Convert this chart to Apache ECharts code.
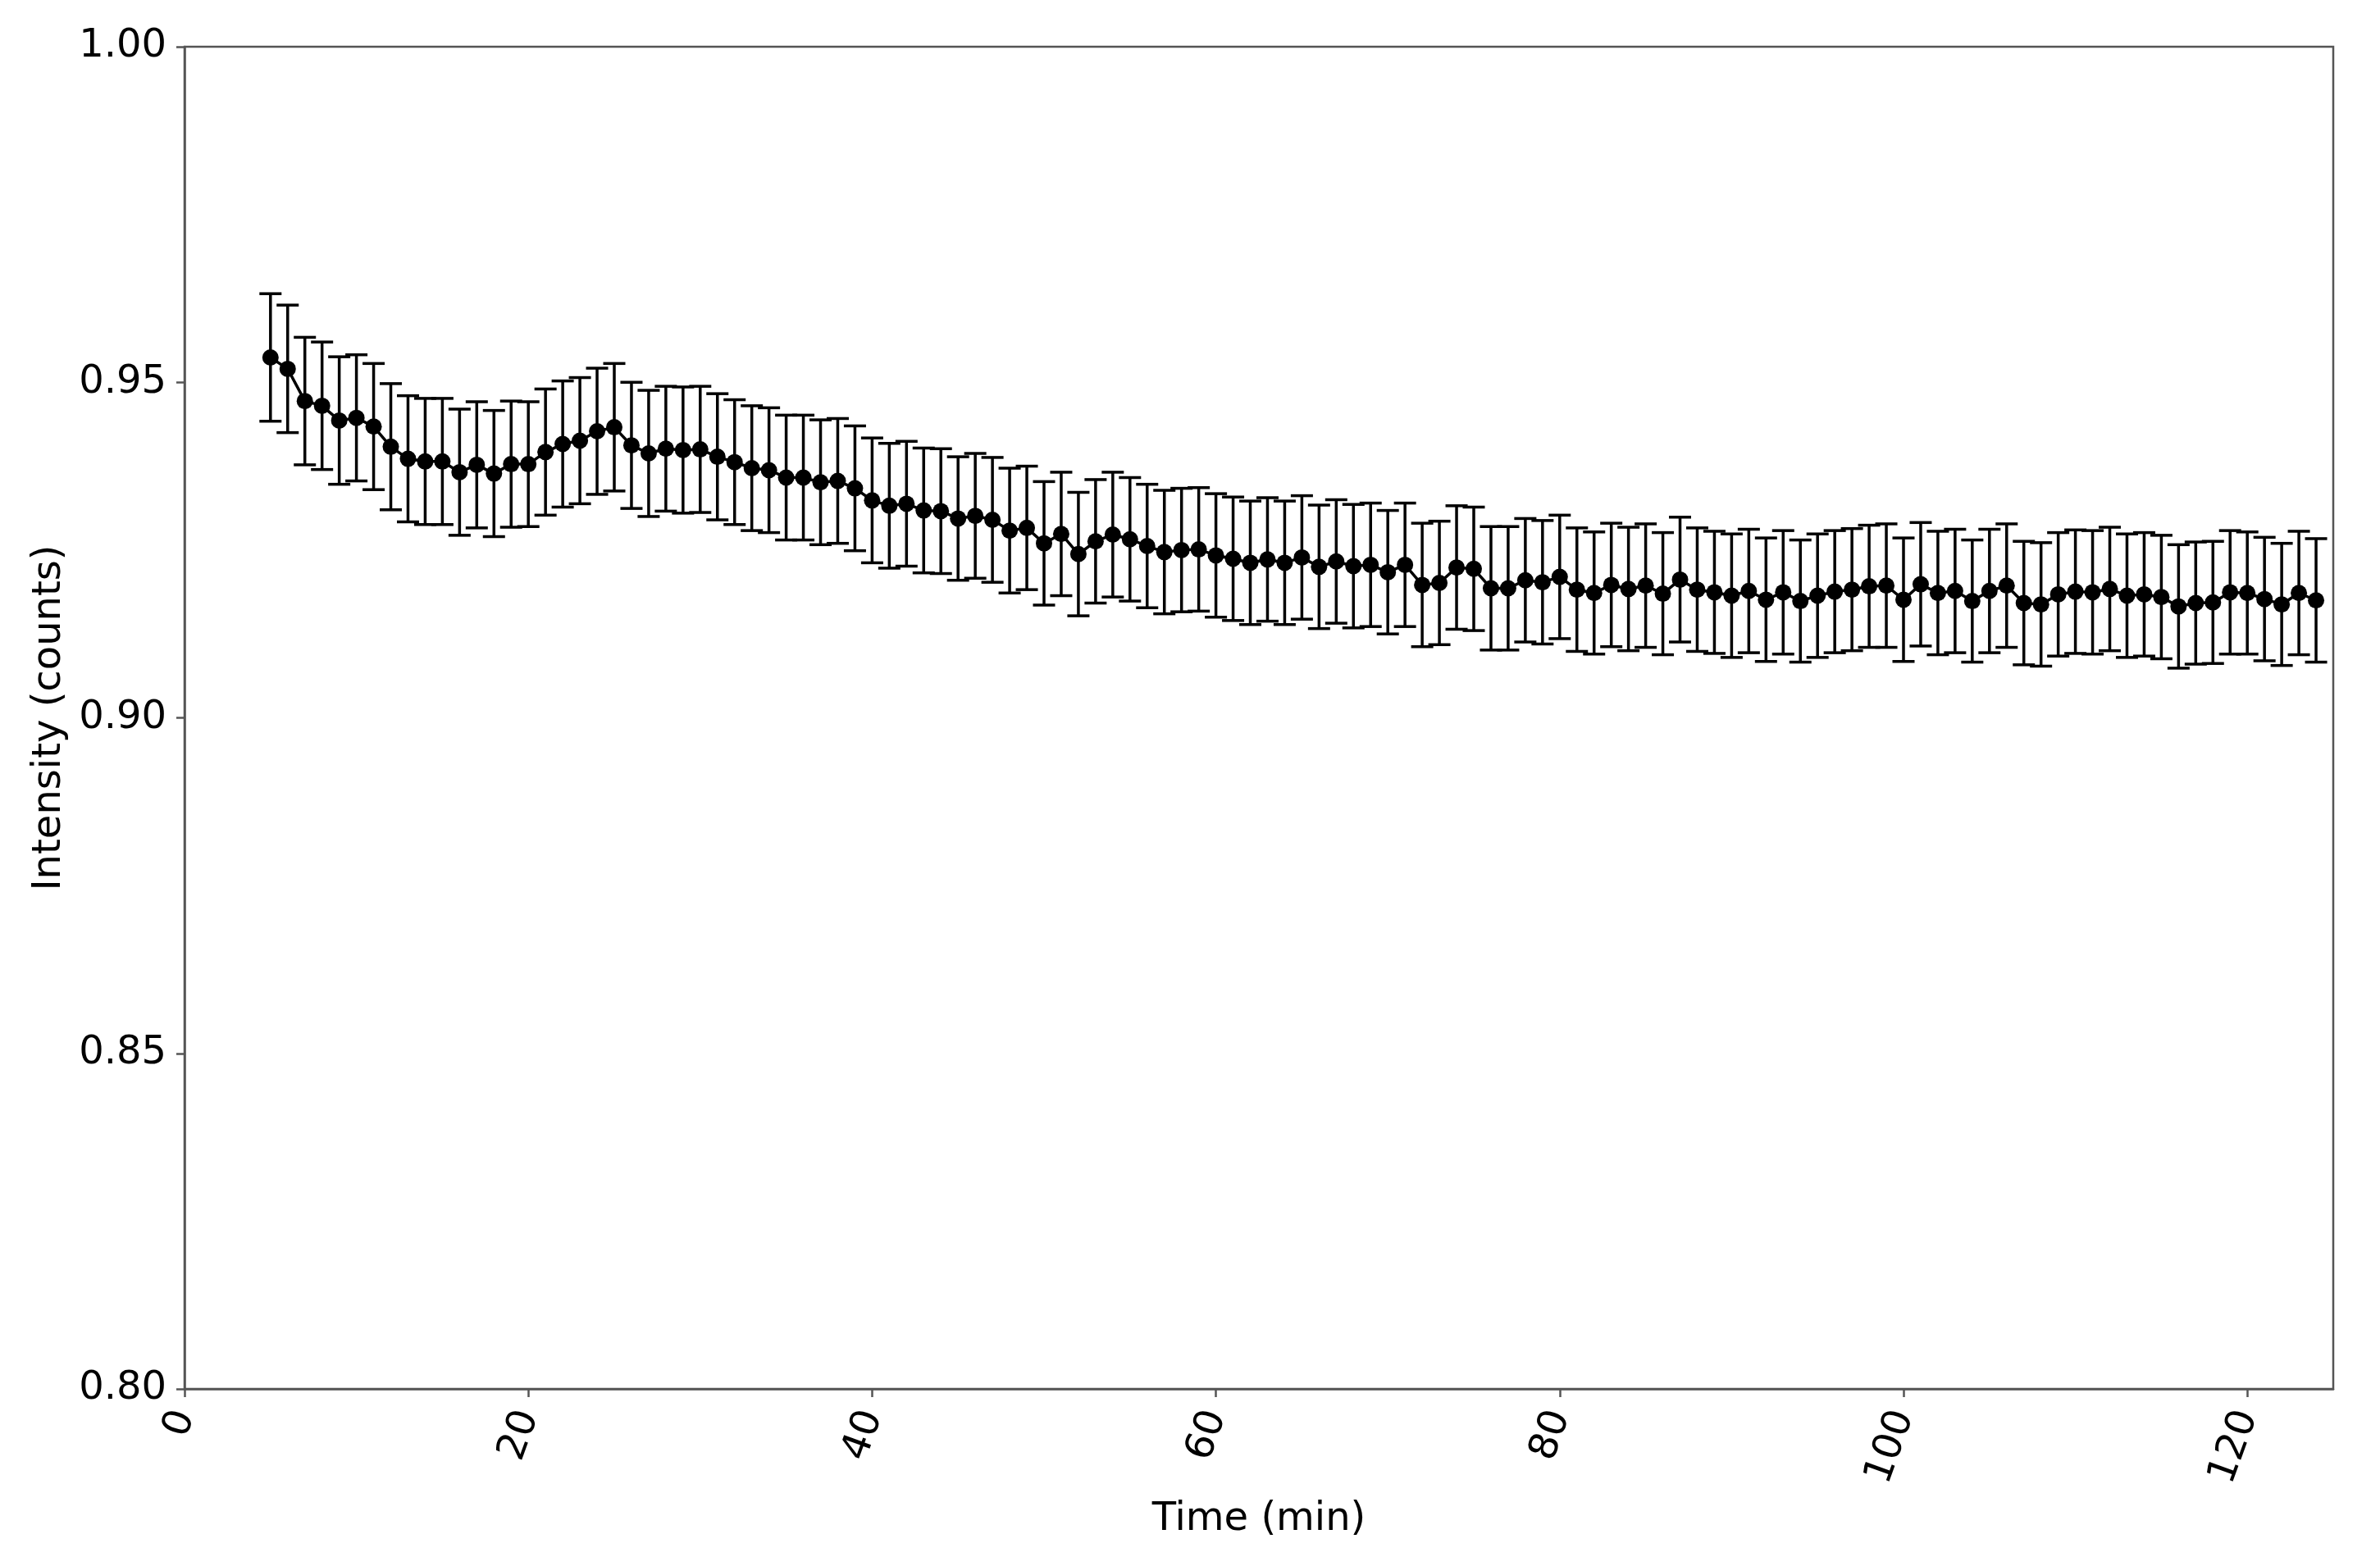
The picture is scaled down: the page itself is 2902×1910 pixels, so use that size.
<!DOCTYPE html>
<html>
<head>
<meta charset="utf-8">
<script src="https://cdn.jsdelivr.net/npm/echarts@6/dist/echarts.min.js"></script>
<style>
html,body{margin:0;padding:0;background:#fff;}
#chart{width:2902px;height:1910px;}
</style>
</head>
<body>
<div id="chart"></div>
<script>
var times = [5,6,7,8,9,10,11,12,13,14,15,16,17,18,19,20,21,22,23,24,25,26,27,28,29,30,31,32,33,34,35,36,37,38,39,40,41,42,43,44,45,46,47,48,49,50,51,52,53,54,55,56,57,58,59,60,61,62,63,64,65,66,67,68,69,70,71,72,73,74,75,76,77,78,79,80,81,82,83,84,85,86,87,88,89,90,91,92,93,94,95,96,97,98,99,100,101,102,103,104,105,106,107,108,109,110,111,112,113,114,115,116,117,118,119,120,121,122,123,124];

var intensity = [
0.9537,0.9520,0.9472,0.9465,0.9443,0.9447,0.9434,0.9404,0.9386,0.9382,
0.9382,0.9366,0.9377,0.9364,0.9378,0.9378,0.9396,0.9408,0.9413,0.9427,
0.9433,0.9406,0.9394,0.9401,0.9399,0.9400,0.9389,0.9381,0.9372,0.9369,
0.9358,0.9358,0.9351,0.9353,0.9342,0.9324,0.9316,0.9319,0.9309,0.9308,
0.9297,0.9301,0.9295,0.9279,0.9283,0.9260,0.9274,0.9244,0.9263,0.9273,
0.9266,0.9256,0.9247,0.9250,0.9251,0.9242,0.9237,0.9231,0.9236,0.9231,
0.9239,0.9225,0.9233,0.9226,0.9228,0.9217,0.9228,0.9198,0.9201,0.9224,
0.9222,0.9193,0.9193,0.9205,0.9202,0.9210,0.9191,0.9186,0.9198,0.9192,
0.9197,0.9185,0.9206,0.9191,0.9187,0.9182,0.9189,0.9176,0.9187,0.9174,
0.9182,0.9188,0.9191,0.9196,0.9197,0.9176,0.9199,0.9186,0.9189,0.9174,
0.9189,0.9197,0.9171,0.9169,0.9184,0.9188,0.9187,0.9192,0.9182,0.9184,
0.9180,0.9166,0.9171,0.9172,0.9187,0.9186,0.9177,0.9169,0.9186,0.9175];

var errors = [
0.0095,0.0095,0.0095,0.0095,0.0095,0.0094,0.0094,0.0094,0.0094,0.0094,
0.0094,0.0094,0.0094,0.0094,0.0094,0.0093,0.0094,0.0094,0.0094,0.0094,
0.0095,0.0094,0.0094,0.0093,0.0094,0.0094,0.0094,0.0093,0.0093,0.0093,
0.0093,0.0093,0.0093,0.0093,0.0093,0.0093,0.0093,0.0093,0.0093,0.0093,
0.0092,0.0093,0.0093,0.0093,0.0092,0.0092,0.0092,0.0092,0.0092,0.0093,
0.0092,0.0092,0.0092,0.0092,0.0092,0.0092,0.0092,0.0092,0.0092,0.0092,
0.0092,0.0092,0.0092,0.0092,0.0092,0.0092,0.0092,0.0092,0.0092,0.0092,
0.0092,0.0092,0.0092,0.0092,0.0092,0.0092,0.0092,0.0091,0.0092,0.0092,
0.0092,0.0091,0.0093,0.0092,0.0091,0.0092,0.0092,0.0092,0.0092,0.0091,
0.0092,0.0091,0.0091,0.0091,0.0092,0.0092,0.0092,0.0092,0.0092,0.0091,
0.0092,0.0092,0.0092,0.0092,0.0092,0.0092,0.0092,0.0092,0.0092,0.0092,
0.0092,0.0092,0.0091,0.0091,0.0092,0.0091,0.0092,0.0091,0.0092,0.0092];

var xTicks = [0,20,40,60,80,100,120];
var yTicks = [0.80,0.85,0.90,0.95,1.00];
var xTitle = 'Time (min)';
var yTitle = 'Intensity (counts)';

var FONT = 'DejaVu Sans';
var AXIS_COLOR = '#555555';

var lineData = times.map(function(t,i){ return [t, intensity[i]]; });
var errData = times.map(function(t,i){ return [t, intensity[i], errors[i]]; });

var chart = echarts.init(document.getElementById('chart'), null, {renderer:'canvas'});
chart.setOption({
  animation: false,
  backgroundColor: '#ffffff',
  grid: {
    left: 225, right: 57, top: 57, bottom: 216,
    show: true, borderColor: AXIS_COLOR, borderWidth: 2.5, backgroundColor: 'transparent'
  },
  xAxis: {
    type: 'value',
    min: 0, max: 125, interval: 20,
    name: xTitle,
    nameLocation: 'middle',
    nameGap: 136,
    nameTextStyle: {fontFamily: FONT, fontSize: 48, color: '#000'},
    axisLine: {show: true, lineStyle: {color: AXIS_COLOR, width: 2.5}},
    axisTick: {show: true, length: 10, lineStyle: {color: AXIS_COLOR, width: 2.5}, customValues: xTicks},
    axisLabel: {
      show: true, rotate: 70, margin: 28,
      padding: [30, 0, 0, 0],
      fontFamily: FONT, fontSize: 48, color: '#000',
      customValues: xTicks,
      formatter: function(v){ return String(v); }
    },
    splitLine: {show: false}
  },
  yAxis: {
    type: 'value',
    min: 0.80, max: 1.00, interval: 0.05,
    name: yTitle,
    nameLocation: 'middle',
    nameGap: 140,
    nameTextStyle: {fontFamily: FONT, fontSize: 48, color: '#000'},
    axisLine: {show: true, lineStyle: {color: AXIS_COLOR, width: 2.5}},
    axisTick: {show: true, length: 10, lineStyle: {color: AXIS_COLOR, width: 2.5}, customValues: yTicks},
    axisLabel: {
      show: true, margin: 22,
      fontFamily: FONT, fontSize: 48, color: '#000',
      customValues: yTicks,
      formatter: function(v){ return Number(v).toFixed(2); }
    },
    splitLine: {show: false}
  },
  series: [
    {
      type: 'custom',
      name: 'error',
      data: errData,
      z: 2,
      clip: false,
      renderItem: function(params, api){
        var x = api.value(0), y = api.value(1), e = api.value(2);
        var top = api.coord([x, y + e]);
        var bot = api.coord([x, y - e]);
        var cap = 13.5;
        var st = {stroke: '#000', lineWidth: 3.5};
        return {
          type: 'group',
          children: [
            {type: 'line', shape: {x1: top[0], y1: top[1], x2: bot[0], y2: bot[1]}, style: st},
            {type: 'line', shape: {x1: top[0]-cap, y1: top[1], x2: top[0]+cap, y2: top[1]}, style: st},
            {type: 'line', shape: {x1: bot[0]-cap, y1: bot[1], x2: bot[0]+cap, y2: bot[1]}, style: st}
          ]
        };
      }
    },
    {
      type: 'line',
      name: 'intensity',
      data: lineData,
      z: 3,
      symbol: 'circle',
      symbolSize: 20,
      showAllSymbol: true,
      itemStyle: {color: '#000'},
      lineStyle: {color: '#000', width: 3.5},
      emphasis: {disabled: true}
    }
  ]
});
</script>
</body>
</html>
